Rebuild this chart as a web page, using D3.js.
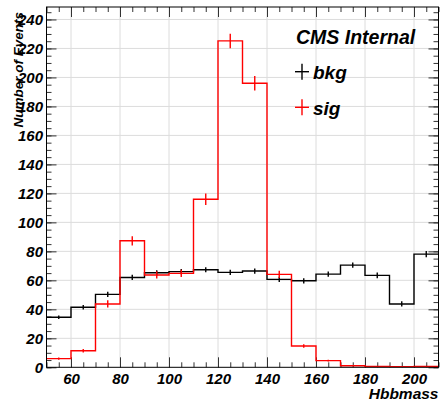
<!DOCTYPE html>
<html lang="en">
<head>
<meta charset="UTF-8">
<title>Hbbmass</title>
<script src="https://d3js.org/d3.v7.min.js"></script>
<style>
    html, body { margin: 0; background: #fff; }
    text { font-family: "Liberation Sans", Arial, sans-serif; font-weight: bold; font-style: italic; }
</style>
</head>
<body>
<div id="vis"></div>
<script>
// bin low edges (width 10)
var binEdges = [50, 60, 70, 80, 90, 100, 110, 120, 130, 140, 150, 160, 170, 180, 190, 200, 210];
var bkg    = [34.5, 41.4, 50.3, 62.0, 65.2, 66.0, 67.3, 65.5, 66.4, 60.7, 59.7, 64.3, 70.5, 63.4, 43.7, 78.1];
var bkgErr = [1.2, 1.5, 1.8, 1.8, 1.8, 1.8, 1.8, 1.8, 1.8, 1.8, 1.8, 1.8, 1.8, 2.0, 1.8, 2.2];
var sig    = [6.0, 11.4, 43.7, 87.3, 63.7, 64.8, 115.9, 225.2, 196.0, 64.1, 14.7, 4.6, 1.1, 0.6, 0.4, 0.6];
var sigErr = [0.8, 1.2, 2.5, 3.2, 2.5, 2.5, 4.0, 5.0, 5.0, 2.5, 1.2, 0.6, 0.3, 0.2, 0.2, 0.2];
var xTicks = [60, 80, 100, 120, 140, 160, 180, 200];
var yTicks = [0, 20, 40, 60, 80, 100, 120, 140, 160, 180, 200, 220, 240];

var W = 440, H = 406;
var pLeft = 46.5, pRight = 438.5, pTop = 7, pBottom = 367.3;

var svg = d3.select('#vis').append('svg')
    .attr('width', W)
    .attr('height', H);

var x = d3.scaleLinear().domain([50, 210]).range([pLeft, pRight]);
var y = d3.scaleLinear().domain([0, 248.6]).range([pBottom, pTop]);

// grid
svg.append('g').selectAll('line.gx')
    .data(xTicks).enter().append('line')
    .attr('x1', function(d) { return x(d); }).attr('x2', function(d) { return x(d); })
    .attr('y1', pTop).attr('y2', pBottom)
    .attr('stroke', '#dcdcdc').attr('stroke-width', 1);
svg.append('g').selectAll('line.gy')
    .data(yTicks.slice(1)).enter().append('line')
    .attr('x1', pLeft).attr('x2', pRight)
    .attr('y1', function(d) { return y(d); }).attr('y2', function(d) { return y(d); })
    .attr('stroke', '#dcdcdc').attr('stroke-width', 1);

var minorX = x.ticks(32);
var minorY = y.ticks(50).filter(function(d) { return d % 5 === 0; });

function styleAxis(g) {
    g.select('.domain').remove();
    g.selectAll('.tick line').attr('stroke', '#333').attr('stroke-width', 1);
    g.selectAll('text').attr('fill', '#000').style('font-size', '15px')
        .attr('font-family', null);
}

// bottom axis
svg.append('g')
    .attr('transform', 'translate(0,' + pBottom + ')')
    .call(d3.axisBottom(x).tickValues(minorX).tickSize(-5).tickFormat(''))
    .call(styleAxis);
svg.append('g')
    .attr('transform', 'translate(0,' + pBottom + ')')
    .call(d3.axisBottom(x).tickValues(xTicks).tickSize(-10).tickPadding(6).tickFormat(d3.format('d')))
    .call(styleAxis);
// top axis
svg.append('g')
    .attr('transform', 'translate(0,' + pTop + ')')
    .call(d3.axisTop(x).tickValues(minorX).tickSize(-5).tickFormat(''))
    .call(styleAxis);
svg.append('g')
    .attr('transform', 'translate(0,' + pTop + ')')
    .call(d3.axisTop(x).tickValues(xTicks).tickSize(-10).tickFormat(''))
    .call(styleAxis);
// left axis
svg.append('g')
    .attr('transform', 'translate(' + pLeft + ',0)')
    .call(d3.axisLeft(y).tickValues(minorY).tickSize(-5).tickFormat(''))
    .call(styleAxis);
svg.append('g')
    .attr('transform', 'translate(' + pLeft + ',0)')
    .call(d3.axisLeft(y).tickValues(yTicks).tickSize(-10).tickPadding(3.5).tickFormat(d3.format('d')))
    .call(styleAxis);
// right axis
svg.append('g')
    .attr('transform', 'translate(' + pRight + ',0)')
    .call(d3.axisRight(y).tickValues(minorY).tickSize(-5).tickFormat(''))
    .call(styleAxis);
svg.append('g')
    .attr('transform', 'translate(' + pRight + ',0)')
    .call(d3.axisRight(y).tickValues(yTicks).tickSize(-10).tickFormat(''))
    .call(styleAxis);

svg.append('clipPath').attr('id', 'clip')
    .append('rect').attr('x', pLeft).attr('y', pTop)
    .attr('width', pRight - pLeft).attr('height', pBottom - pTop);

var step = d3.line()
    .x(function(d) { return x(d[0]); })
    .y(function(d) { return y(d[1]); })
    .curve(d3.curveStepAfter);

function drawHist(vals, errs, colour) {
    var pts = vals.map(function(v, i) { return [binEdges[i], v]; });
    pts.push([binEdges[vals.length], vals[vals.length - 1]]);
    var g = svg.append('g').attr('clip-path', 'url(#clip)');
    g.append('path')
        .attr('d', step(pts))
        .attr('fill', 'none')
        .attr('stroke', colour)
        .attr('stroke-width', 1.4);
    g.selectAll('line.err')
        .data(vals).enter().append('line')
        .attr('x1', function(d, i) { return x((binEdges[i] + binEdges[i + 1]) / 2); })
        .attr('x2', function(d, i) { return x((binEdges[i] + binEdges[i + 1]) / 2); })
        .attr('y1', function(d, i) { return y(d - errs[i]); })
        .attr('y2', function(d, i) { return y(d + errs[i]); })
        .attr('stroke', colour)
        .attr('stroke-width', 1.4);
}

drawHist(bkg, bkgErr, '#000');
drawHist(sig, sigErr, '#ff0000');

// frame
svg.append('rect')
    .attr('x', pLeft).attr('y', pTop)
    .attr('width', pRight - pLeft).attr('height', pBottom - pTop)
    .attr('fill', 'none').attr('stroke', '#000').attr('stroke-width', 1);

// titles
svg.append('text')
    .attr('x', pRight).attr('y', 399)
    .attr('text-anchor', 'end')
    .style('font-size', '15.5px')
    .text('Hbbmass');

svg.append('text')
    .attr('transform', 'translate(23,12) rotate(-90)')
    .attr('text-anchor', 'end')
    .style('font-size', '13.5px')
    .text('Number of Events');

svg.append('text')
    .attr('x', 296).attr('y', 44)
    .style('font-size', '19.5px')
    .text('CMS Internal');

// legend
var legend = [
    { name: 'bkg', colour: '#000', cy: 71.7 },
    { name: 'sig', colour: '#ff0000', cy: 107.3 }
];
var lg = svg.selectAll('g.leg').data(legend).enter().append('g');
lg.append('line')
    .attr('x1', 295).attr('x2', 309)
    .attr('y1', function(d) { return d.cy; }).attr('y2', function(d) { return d.cy; })
    .attr('stroke', function(d) { return d.colour; }).attr('stroke-width', 1.4);
lg.append('line')
    .attr('x1', 302).attr('x2', 302)
    .attr('y1', function(d) { return d.cy - 8; }).attr('y2', function(d) { return d.cy + 8; })
    .attr('stroke', function(d) { return d.colour; }).attr('stroke-width', 1.4);
lg.append('text')
    .attr('x', 313).attr('y', function(d) { return d.cy + 7.5; })
    .style('font-size', '19px')
    .text(function(d) { return d.name; });
</script>
</body>
</html>
